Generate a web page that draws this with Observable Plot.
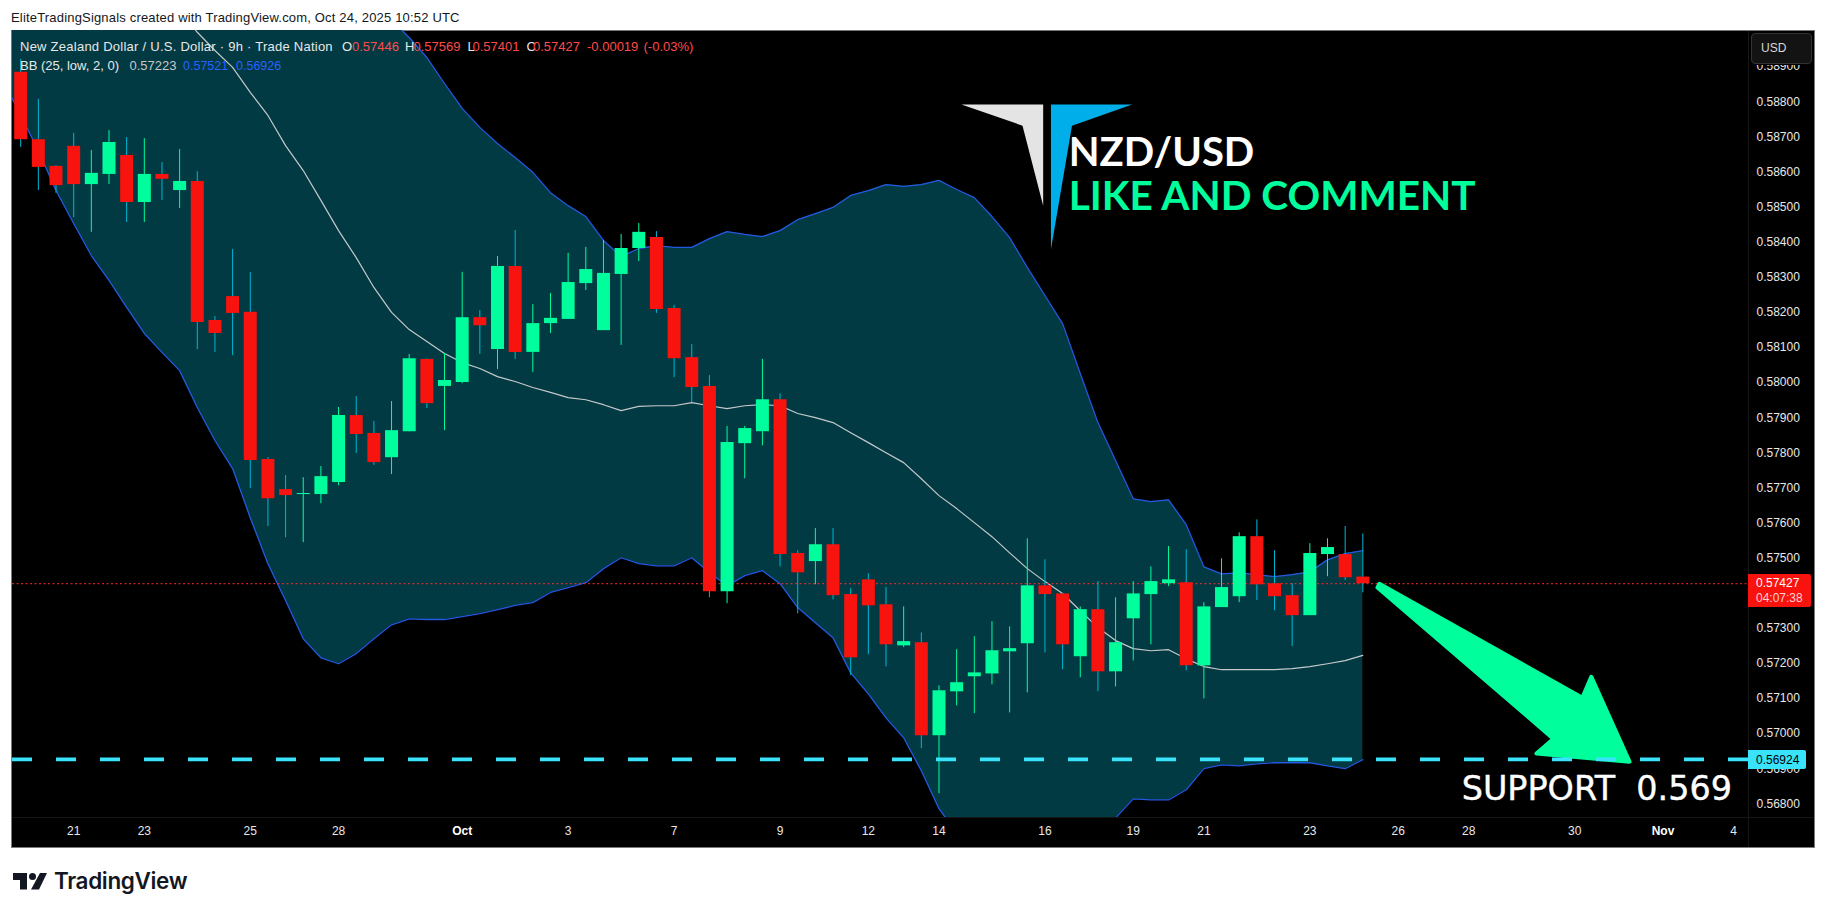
<!DOCTYPE html>
<html><head><meta charset="utf-8">
<script src="https://cdn.jsdelivr.net/npm/d3@7"></script>
<script src="https://cdn.jsdelivr.net/npm/@observablehq/plot@0.6"></script>
<style>
html,body{margin:0;padding:0;background:#fff;overflow:hidden}
#root{position:relative;width:1826px;height:914px;font-family:"Liberation Sans",sans-serif}
#root>*{position:absolute}
#frame{left:11px;top:30px;width:1802px;height:816px;background:#000;border:1px solid #7a7a7a}
#chart{left:0;top:0}
.t{white-space:nowrap;font-size:13px;line-height:14px}
</style></head><body>
<div id="root">
<div id="frame"></div>
<div id="chart"></div>
</div>
<script>
// prices in units of 0.00001 USD
const open =[58884,58692,58616,58673,58564,58593,58647,58513,58593,58547,58573,58177,58245,58200,57781,57695,57681,57681,57715,57906,57855,57786,57860,58066,57989,58000,58185,58094,58331,58086,58168,58180,58282,58148,58308,58382,58413,58211,58071,57989,57404,57826,57860,57951,57513,57490,57538,57396,57438,57367,57250,57259,56994,57119,57162,57170,57233,57256,57421,57398,57219,57353,57176,57327,57396,57427,57430,57193,57359,57390,57561,57427,57393,57336,57510,57510,57446];
const high =[58920,58807,58618,58710,58661,58718,58698,58695,58627,58664,58601,58188,58379,58314,57786,57735,57729,57761,57929,57960,57889,57946,58080,58068,58083,58314,58205,58359,58433,58222,58254,58368,58385,58405,58422,58453,58430,58220,58108,58020,57875,57875,58066,57968,57521,57584,57584,57413,57455,57416,57361,57287,57136,57239,57276,57319,57304,57555,57495,57399,57361,57433,57387,57433,57475,57533,57524,57373,57498,57572,57609,57521,57427,57541,57555,57590,57569];
const low  =[58670,58547,58539,58470,58428,58564,58456,58456,58519,58496,58094,58086,58077,57698,57590,57558,57544,57655,57706,57798,57764,57738,57860,57926,57863,57997,58080,58037,58066,58029,58140,58180,58262,58148,58106,58345,58197,58014,57943,57387,57370,57726,57820,57475,57341,57424,57381,57165,57225,57190,57245,56957,56829,57079,57057,57139,57059,57116,57230,57182,57159,57119,57133,57207,57253,57419,57179,57099,57359,57373,57379,57350,57248,57336,57447,57436,57401];
const close=[58692,58613,58561,58564,58596,58684,58513,58593,58579,58573,58171,58140,58197,57778,57669,57678,57684,57732,57906,57852,57772,57863,58068,57940,58006,58185,58162,58331,58086,58168,58183,58285,58322,58311,58382,58428,58208,58068,57986,57404,57829,57869,57951,57510,57458,57538,57393,57216,57364,57253,57262,56994,57122,57145,57173,57236,57242,57421,57396,57253,57353,57176,57259,57398,57433,57438,57193,57361,57416,57561,57424,57390,57336,57513,57530,57444,57427];
// Bollinger bands, first entry of each list sits one bar before the first candle
const bbLower=[58861,58761,58661,58547,58453,58362,58291,58214,58140,58086,58034,57929,57835,57755,57615,57484,57379,57270,57216,57199,57228,57270,57310,57327,57325,57325,57333,57342,57353,57365,57373,57402,57416,57430,57470,57501,57484,57478,57478,57501,57459,57421,57450,57464,57427,57359,57316,57273,57173,57113,57045,56988,56894,56786,56717,56686,56666,56652,56652,56666,56680,56695,56723,56760,56814,56811,56811,56840,56900,56911,56908,56914,56917,56917,56917,56908,56900,56926];
const bbUpper=[60240,60195,60150,60085,60040,59985,59945,59880,59835,59790,59730,59690,59635,59590,59530,59485,59420,59360,59305,59240,59175,59110,59032,58983,58926,58852,58781,58727,58681,58641,58599,58541,58504,58473,58405,58359,58382,58390,58385,58385,58410,58430,58422,58416,58433,58464,58481,58499,58533,58547,58564,58559,58564,58576,58550,58527,58473,58413,58328,58248,58168,58026,57886,57778,57669,57661,57666,57595,57475,57455,57458,57453,57447,57453,57461,57495,57513,57521];
const bbBasis=[59060,58998,58946,58898,58827,58761,58675,58604,58519,58433,58356,58271,58200,58151,58117,58083,58057,58040,58017,58003,57986,57972,57957,57951,57937,57920,57932,57934,57934,57943,57934,57926,57934,57937,57934,57912,57900,57886,57857,57829,57800,57772,57726,57678,57641,57601,57561,57515,57470,57433,57399,57350,57302,57265,57242,57236,57239,57213,57191,57182,57182,57182,57182,57185,57191,57199,57208,57223];
const bbBasisStart=9;
const lastPrice=57427, supportPrice=56924;
const priceTicks=[58900,58800,58700,58600,58500,58400,58300,58200,58100,58000,57900,57800,57700,57600,57500,57300,57200,57100,57000,56900,56800];
const dayTicks=[3,7,13,18,31,37,43,48,52,58,63,67,73,78,82,88,97];
const dayLabels=["21","23","25","28","3","7","9","12","14","16","19","21","23","26","28","30","4"];
const monthTicks=[25,93];
const monthLabels=["Oct","Nov"];
// drawings, as bar index and price
const arrowI=[76.94,88.43,88.94,91.1,85.83,86.8,76.83];
const arrowP=[57427,57102,57162,56920,56943,56985,57416];
const logoGreyI=[53.27,57.9,57.9,56.73];
const logoGreyP=[58792,58792,58504,58732];
const logoBlueI=[58.34,62.94,59.53,58.34];
const logoBlueP=[58792,58792,58732,58379];
const titleText="EliteTradingSignals created with TradingView.com, Oct 24, 2025 10:52 UTC";
const legendName="New Zealand Dollar / U.S. Dollar · 9h · Trade Nation";
const legendOHLC=[["O","0.57446",342,352],["H","0.57569",405,413.5],["L","0.57401",467.5,472.5],["C","0.57427",526.5,533]];
const legendChange=["-0.00019","(-0.03%)"];
const bbName="BB (25, low, 2, 0)";
const bbValues=["0.57223","0.57521","0.56926"];
const countdown="04:07:38";

const bars=open.map((o,i)=>({i,o,h:high[i],l:low[i],c:close[i],up:close[i]>=o}));
const bands=bbLower.map((v,k)=>({i:k-1,lo:v,hi:bbUpper[k]}));
const basis=bbBasis.map((v,k)=>({i:k+bbBasisStart,v}));
const zip=(a,b)=>a.map((x,k)=>({i:x,p:b[k]}));
const GREEN="#00ff9c",RED="#f8130e",CYANW="#00b7d6",BLUE="#2358e0",CY="#38e3fb";
const fmt=d=>(d/1e5).toFixed(5);

const svg=Plot.plot({
  width:1826,height:914,
  marginLeft:12,marginRight:78,marginTop:30,marginBottom:97,
  style:{background:"transparent",fontFamily:"'Liberation Sans',sans-serif",fontSize:"12px",color:"#fff"},
  x:{type:"linear",domain:[-0.464,97.84],axis:null},
  y:{type:"linear",domain:[56761,59003],axis:null},
  marks:[
    Plot.areaY(bands,{x:"i",y1:"lo",y2:"hi",fill:"#023a43",clip:true}),
    Plot.line(bands,{x:"i",y:"hi",stroke:BLUE,strokeWidth:1.3,clip:true}),
    Plot.line(bands,{x:"i",y:"lo",stroke:BLUE,strokeWidth:1.3,clip:true}),
    Plot.line(basis,{x:"i",y:"v",stroke:"#c4c9cb",strokeWidth:1.2,clip:true}),
    Plot.ruleY([lastPrice],{stroke:"#ff2a2a",strokeWidth:1,strokeDasharray:"2,2.5"}),
    Plot.ruleX(bars,{x:"i",y1:"l",y2:"h",stroke:d=>d.up?GREEN:CYANW,strokeWidth:1,clip:true}),
    Plot.ruleX(bars,{x:"i",y1:"o",y2:"c",stroke:d=>d.up?GREEN:RED,strokeWidth:13,clip:true}),
    Plot.line(zip(arrowI,arrowP),{x:"i",y:"p",fill:GREEN,stroke:GREEN,strokeWidth:4,strokeLinejoin:"round",curve:"linear-closed"}),
    Plot.line(zip(logoGreyI,logoGreyP),{x:"i",y:"p",fill:"#e4e4e4",stroke:"none",curve:"linear-closed"}),
    Plot.line(zip(logoBlueI,logoBlueP),{x:"i",y:"p",fill:"#00aeea",stroke:"none",curve:"linear-closed"}),
    Plot.ruleY([supportPrice],{stroke:CY,strokeWidth:3.7,strokeDasharray:"20,24",dy:-1}),
    Plot.text(["NZD/USD"],{x:[59.35],y:[58654],text:d=>d,textAnchor:"start",fill:"#fff",fontFamily:"Lato",fontWeight:700,fontSize:40,lineAnchor:"middle"}),
    Plot.text(["LIKE AND COMMENT"],{x:[59.35],y:[58530],text:d=>d,textAnchor:"start",fill:GREEN,fontFamily:"Lato",fontWeight:700,fontSize:40.5,lineAnchor:"middle"}),
    Plot.text(["SUPPORT  0.569"],{x:[81.6],y:[56840],text:d=>d,textAnchor:"start",fill:"#fff",stroke:"#fff",strokeWidth:0.4,fontFamily:"DejaVu Sans",fontSize:33.4,lineAnchor:"middle"}),
    Plot.axisY(priceTicks,{anchor:"right",tickSize:0,tickPadding:8,tickFormat:fmt,label:null,fill:"#e8e8e8",fontSize:12}),
    Plot.axisX(dayTicks,{anchor:"bottom",tickSize:0,tickPadding:9,label:null,fill:"#e8e8e8",fontSize:12,tickFormat:d=>dayLabels[dayTicks.indexOf(d)]}),
    Plot.axisX(monthTicks,{anchor:"bottom",tickSize:0,tickPadding:9,label:null,fill:"#fff",fontSize:12,fontWeight:700,tickFormat:d=>monthLabels[monthTicks.indexOf(d)]})
  ]
});
document.getElementById("chart").append(svg);

const root=document.getElementById("root");
function box(l,t,w,h,css){const d=document.createElement("div");d.style.cssText=`left:${l}px;top:${t}px;width:${w}px;height:${h}px;${css||""}`;root.append(d);return d;}
function txt(s,l,cy,color,css){const d=document.createElement("div");d.className="t";d.textContent=s;d.style.cssText=`left:${l}px;top:${cy-7}px;color:${color};${css||""}`;root.append(d);return d;}
// pane separators
box(12,817,1802,1,"background:#161616");
box(1748,31,1,816,"background:#161616");
// header
txt(titleText,11,18,"#131722","letter-spacing:.18px");
txt(legendName,20,47,"#e8e8e8","letter-spacing:.25px");
legendOHLC.forEach(([a,v,x1,x2])=>{txt(a,x1,47,"#e8e8e8");txt(v,x2,47,"#ff4a4a");});
txt(legendChange[0],587,47,"#ff4a4a");
txt(legendChange[1],643.5,47,"#ff4a4a");
txt(bbName,20,66,"#e8e8e8");
txt(bbValues[0],129.5,66,"#c8c8c8");
txt(bbValues[1],183,66,"#2962ff","font-size:12.5px");
txt(bbValues[2],236,66,"#2962ff","font-size:12.5px");
// currency box
box(1749,31,65,34,"background:#000");
box(1751,33,59,29,"background:#131313;border:1px solid #333;border-radius:4px");
txt("USD",1761,48,"#d8d8d8","font-size:12px");
// price tags
box(1748,574,63,33,"background:#f8130e;border-radius:0 2px 2px 0");
txt(fmt(lastPrice),1756,583,"#fff","font-size:12px");
txt(countdown,1756,598,"#ffd0d0","font-size:12px");
box(1748,750,58,19,"background:#38e3fb;border-radius:0 2px 2px 0");
txt(fmt(supportPrice),1756,760,"#000","font-size:12px");
// TradingView mark
const logo=document.createElementNS("http://www.w3.org/2000/svg","svg");
logo.setAttribute("width","34");logo.setAttribute("height","17");logo.setAttribute("viewBox","0 0 34 17");
logo.style.cssText="left:13px;top:873px";
logo.innerHTML='<path fill="#131722" d="M0 0H14V16.5H7V7H0Z"/><circle fill="#131722" cx="19.5" cy="3.5" r="3.5"/><path fill="#131722" d="M27 0H34L26 16.5H18Z"/>';
root.append(logo);
txt("TradingView",54,881,"#131722","font-family:Inter;font-weight:600;font-size:22.5px;letter-spacing:-0.35px;line-height:14px");
</script>
</body></html>
